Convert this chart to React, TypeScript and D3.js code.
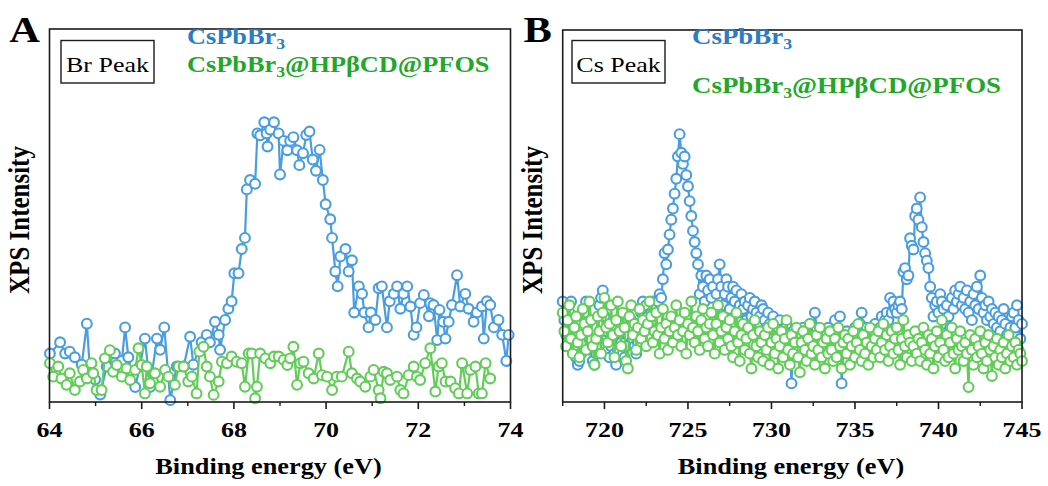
import React from "react";
import * as d3 from "d3";

// ---------- Panel A (Br peak) ----------
const A_TICKS_MAJOR = [64, 66, 68, 70, 72, 74];
const A_TICKS_MINOR = [65, 67, 69, 71, 73];
const A_BLUE_E = [
  64.01, 64.23, 64.34, 64.44, 64.55, 64.7, 64.81, 64.88, 64.99, 65.1,
  65.24, 65.42, 65.57, 65.64, 65.71, 65.86, 65.96, 66.07, 66.18, 66.33,
  66.4, 66.49, 66.62, 66.76, 66.91, 67.05, 67.12, 67.3, 67.41, 67.48,
  67.59, 67.67, 67.7, 67.81, 67.88, 67.95, 68.01, 68.1, 68.17, 68.24,
  68.28, 68.35, 68.46, 68.51, 68.57, 68.66, 68.71, 68.73, 68.79, 68.87,
  68.97, 69.0, 69.08, 69.16, 69.22, 69.29, 69.37, 69.42, 69.5, 69.57,
  69.64, 69.71, 69.78, 69.86, 69.93, 69.99, 70.09, 70.13, 70.2, 70.25,
  70.31, 70.42, 70.49, 70.56, 70.61, 70.71, 70.78, 70.83, 70.92, 70.97,
  71.07, 71.14, 71.21, 71.32, 71.38, 71.47, 71.54, 71.61, 71.68, 71.76,
  71.83, 71.9, 71.96, 72.04, 72.12, 72.23, 72.26, 72.33, 72.41, 72.46,
  72.54, 72.59, 72.66, 72.73, 72.84, 72.91, 73.02, 73.09, 73.2, 73.27,
  73.38, 73.42, 73.49, 73.56, 73.64, 73.74, 73.82, 73.91, 73.96,
];
const A_BLUE_I = [
  13, 16, 13, 13.5, 12, 10, 21, 8, 6, 2,
  9.5, 13, 11, 20, 12, 4, 9.5, 17, 4, 17,
  14, 20, 0.5, 9.5, 9.5, 17.5, 10, 16, 18, 16,
  21.5, 18, 14, 22, 25, 27, 34.5, 34.5, 41, 44,
  57, 59.5, 58.5, 72, 71.5, 75, 72, 68.5, 73, 75,
  72, 61, 70, 67.5, 70, 71, 67.5, 63.5, 66.7, 71.6,
  72.5, 65, 62, 67.6, 59.5, 53, 49, 44, 35, 31,
  39, 41, 35, 38, 24, 31, 29, 24, 20, 24,
  22, 30.5, 31, 20, 27, 29, 31, 25, 29, 31,
  25.6, 18, 20, 26.5, 28.7, 23, 26.5, 26, 16.6, 24.7,
  21.5, 17, 21.5, 26, 34, 25.6, 29, 25, 21.5, 24,
  25.6, 17, 27, 26, 20, 22, 18, 11, 18,
];
const A_GREEN_E = [
  64.01, 64.08, 64.19, 64.26, 64.37, 64.44, 64.55, 64.66, 64.73, 64.81,
  64.91, 64.95, 65.02, 65.13, 65.2, 65.31, 65.38, 65.46, 65.57, 65.67,
  65.75, 65.86, 65.93, 66.0, 66.07, 66.11, 66.18, 66.29, 66.4, 66.51,
  66.58, 66.72, 66.8, 66.91, 67.01, 67.09, 67.19, 67.25, 67.34, 67.41,
  67.48, 67.56, 67.67, 67.74, 67.85, 67.95, 68.06, 68.17, 68.24, 68.32,
  68.39, 68.46, 68.5, 68.57, 68.68, 68.79, 68.87, 68.97, 69.08, 69.16,
  69.22, 69.29, 69.37, 69.44, 69.51, 69.62, 69.73, 69.84, 69.91, 70.02,
  70.13, 70.23, 70.34, 70.49, 70.56, 70.67, 70.74, 70.85, 70.96, 71.03,
  71.14, 71.18, 71.25, 71.32, 71.39, 71.54, 71.61, 71.68, 71.79, 71.9,
  71.97, 72.04, 72.15, 72.26, 72.37, 72.44, 72.51, 72.59, 72.7, 72.8,
  72.88, 72.95, 73.06, 73.13, 73.24, 73.31, 73.38, 73.46, 73.56,
];
const A_GREEN_I = [
  10.4, 6.8, 9.5, 6.3, 4.6, 7.7, 3.2, 5.5, 8.6, 6.3,
  10.4, 7.7, 3.2, 3.2, 11.7, 13.9, 8.1, 9.9, 6.8, 9.0,
  5.9, 8.6, 14.4, 9.9, 2.3, 9.5, 5.0, 7.7, 4.1, 8.6,
  6.8, 4.6, 9.5, 9.5, 5.5, 6.8, 2.3, 13.5, 14.8, 9.5,
  6.8, 1.9, 5.5, 10.8, 10.4, 12.2, 10.8, 10.4, 4.1, 13.0,
  13.0, 1.0, 4.1, 13.0, 11.7, 10.4, 12.2, 12.2, 11.3, 9.9,
  11.7, 14.8, 4.6, 10.4, 10.8, 7.7, 6.3, 13.0, 7.2, 6.8,
  3.2, 6.8, 6.8, 13.5, 7.7, 6.3, 5.5, 4.1, 6.8, 8.6,
  3.2, 1.0, 8.1, 7.7, 5.9, 6.8, 3.2, 2.3, 7.2, 9.5,
  6.8, 5.9, 10.4, 14.4, 2.8, 9.5, 10.4, 5.5, 5.5, 3.7,
  2.3, 10.4, 2.3, 8.6, 9.5, 2.3, 2.3, 10.4, 6.3,
];

// ---------- Panel B (Cs peak), 0.1 eV grid from 717.5 eV ----------
const B_TICKS_MAJOR = [720, 725, 730, 735, 740, 745];
const B_TICKS_MINOR = [717.5, 722.5, 727.5, 732.5, 737.5, 742.5];
const B_START = 717.5;
const B_STEP = 0.1;
const B_BLUE_I = [
  27, 22, 18, 15, 24, 27, 20, 15, 12, 10,
  11, 13, 16, 24, 27, 21, 17, 14, 11, 10,
  13, 17, 26, 28, 30, 23, 19, 14, 12, 15,
  18, 13, 10, 14, 19, 16, 13, 12, 15, 18,
  20, 22, 17, 15, 13, 16, 21, 24, 27, 25,
  26, 23, 20, 24, 27, 26, 25, 27, 29, 28,
  33, 40, 37, 41, 45, 49, 52, 56, 60, 66,
  72, 67, 64, 66, 61, 58, 54, 50, 46, 43,
  40, 37, 29, 34, 31, 27, 34, 30, 33, 28,
  31, 24, 29, 33, 37, 31, 26, 29, 33, 31,
  25, 28, 31, 27, 30, 24, 26, 29, 25, 27,
  22, 26, 28, 23, 25, 27, 24, 21, 23, 26,
  25, 22, 20, 24, 21, 18, 23, 19, 17, 20,
  22, 18, 16, 19, 21, 17, 15, 5, 18, 16,
  14, 14, 18, 16, 20, 17, 15, 19, 21, 16,
  18, 24, 20, 17, 15, 19, 16, 14, 18, 20,
  17, 15, 19, 22, 16, 18, 23, 5, 14, 16,
  19, 17, 15, 18, 16, 20, 17, 15, 21, 24,
  18, 16, 20, 17, 15, 19, 18, 21, 17, 16,
  20, 23, 19, 22, 24, 22, 28, 24, 27, 25,
  24, 26, 27, 25, 35, 36, 33, 34, 44, 42,
  41, 50, 52, 49, 55, 47, 43, 40, 38, 36,
  31, 28, 23, 26, 27, 24, 29, 27, 25, 21,
  26, 23, 20, 28, 25, 30, 27, 29, 31, 26,
  28, 25, 30, 24, 27, 22, 29, 26, 31, 25,
  34, 28, 24, 26, 22, 27, 23, 25, 21, 24,
  20, 23, 19, 22, 25, 21, 18, 17, 20, 23,
  24, 20, 26, 22, 17, 21,
];
const B_GREEN_I = [
  24, 19, 15, 22, 26, 17, 13, 20, 23, 16,
  12, 18, 25, 21, 14, 19, 27, 22, 15, 10,
  17, 23, 19, 13, 24, 28, 20, 16, 21, 26,
  18, 12, 22, 27, 19, 15, 24, 20, 11, 9,
  23, 26, 18, 21, 14, 20, 25, 17, 22, 19,
  15, 21, 27, 23, 16, 19, 24, 18, 13, 20,
  25, 17, 21, 14, 19, 23, 16, 20, 26, 18,
  22, 15, 19, 24, 13, 21, 18, 27, 20, 16,
  23, 19, 14, 22, 25, 17, 20, 15, 21, 24,
  18, 13, 21, 26, 16, 19, 23, 14, 20, 17,
  22, 15, 12, 19, 24, 16, 11, 18, 21, 14,
  17, 20, 13, 9, 18, 22, 15, 12, 19, 16,
  11, 18, 14, 20, 10, 16, 21, 13, 17, 9,
  15, 19, 12, 17, 22, 14, 10, 18, 13, 16,
  20, 12, 8, 16, 19, 14, 11, 17, 21, 13,
  15, 10, 18, 14, 20, 12, 16, 9, 17, 13,
  19, 14, 11, 17, 12, 20, 15, 9, 16, 18,
  13, 17, 10, 15, 19, 12, 16, 21, 14, 11,
  18, 13, 16, 10, 20, 15, 12, 17, 14, 19,
  12, 16, 21, 14, 18, 11, 15, 19, 13, 17,
  20, 14, 10, 17, 22, 15, 12, 18, 16, 11,
  15, 19, 13, 17, 11, 16, 20, 14, 10, 18,
  13, 17, 9, 15, 19, 12, 16, 22, 14, 11,
  18, 12, 16, 20, 13, 9, 17, 14, 19, 15,
  11, 16, 13, 4, 18, 14, 10, 17, 12, 15,
  19, 13, 9, 16, 11, 18, 14, 7, 15, 12,
  17, 10, 14, 12, 16, 9, 13, 18, 11, 15,
  12, 16, 10, 14, 13, 11,
];

const SERIES_NAMES = ["CsPbBr", "@HPβCD@PFOS"];

const BLUE = "#4a9ddf";
const GREEN = "#62cd58";
const BLUE_TXT = "#2b7cc0";
const GREEN_TXT = "#1fa82a";
const FONT = "'Liberation Serif', 'Times New Roman', serif";
const SX = 1.18;

type Pt = { e: number; v: number };

function Series({ pts, x, y, color }: { pts: Pt[]; x: any; y: any; color: string }) {
  const line = d3.line<Pt>().x((d) => x(d.e)).y((d) => y(d.v));
  return (
    <g>
      <path d={line(pts) || ""} fill="none" stroke={color} strokeWidth={2.2} />
      {pts.map((d, i) => (
        <circle key={i} cx={x(d.e)} cy={y(d.v)} r={4.9} fill="#fff" stroke={color} strokeWidth={2.1} />
      ))}
    </g>
  );
}

function Txt({ x, y, size, weight, anchor, fill, rotate, children }: any) {
  const t = `translate(${x},${y}) scale(${SX},1)` + (rotate ? ` rotate(${rotate})` : "");
  return (
    <text transform={t} fontFamily={FONT} fontSize={size} fontWeight={weight || "normal"} textAnchor={anchor || "start"} fill={fill || "#000"}>
      {children}
    </text>
  );
}

function Panel(props: any) {
  const { left, right, top, bottom, domain, major, minor, blue, green, letter, peak, legBlueY, legGreenY, legX, legSize, boxX, titleX } = props;
  const x = d3.scaleLinear().domain(domain).range([left, right]);
  const y = d3.scaleLinear().domain([0, 100]).range([bottom, top]);
  return (
    <g>
      <Series pts={blue} x={x} y={y} color={BLUE} />
      <Series pts={green} x={x} y={y} color={GREEN} />
      <rect x={left} y={top} width={right - left} height={bottom - top} fill="none" stroke="#1a1a1a" strokeWidth={1.6} />
      {major.map((t: number) => (
        <g key={"M" + t}>
          <line x1={x(t)} x2={x(t)} y1={bottom} y2={bottom + 7} stroke="#1a1a1a" strokeWidth={1.6} />
          <Txt x={x(t)} y={436.5} size={22} weight="bold" anchor="middle">{String(t)}</Txt>
        </g>
      ))}
      {minor.map((t: number) => (
        <line key={"m" + t} x1={x(t)} x2={x(t)} y1={bottom} y2={bottom + 4} stroke="#1a1a1a" strokeWidth={1.4} />
      ))}
      <Txt x={titleX} y={474} size={22.3} weight="bold" anchor="middle">Binding energy (eV)</Txt>
      <Txt x={left - 20.5} y={220} size={25} weight="bold" anchor="middle" rotate={-90}>XPS Intensity</Txt>
      <Txt x={left - 25} y={42} size={36} weight="bold" anchor="middle">{letter}</Txt>
      <rect x={boxX} y={40.5} width={93} height={42.5} fill="#fff" stroke="#1a1a1a" strokeWidth={1.4} />
      <Txt x={boxX + 46.5} y={72} size={22} anchor="middle">{peak}</Txt>
      <Txt x={legX} y={legBlueY} size={legSize} weight="bold" fill={BLUE_TXT}>
        <tspan>{SERIES_NAMES[0]}</tspan>
        <tspan dy={5} fontSize={15}>3</tspan>
      </Txt>
      <Txt x={legX} y={legGreenY} size={legSize} weight="bold" fill={GREEN_TXT}>
        <tspan>{SERIES_NAMES[0]}</tspan>
        <tspan dy={5} fontSize={15}>3</tspan>
        <tspan dy={-5}>{SERIES_NAMES[1]}</tspan>
      </Txt>
    </g>
  );
}

export default function App() {
  const aBlue = A_BLUE_E.map((e, i) => ({ e, v: A_BLUE_I[i] }));
  const aGreen = A_GREEN_E.map((e, i) => ({ e, v: A_GREEN_I[i] }));
  const bBlue = B_BLUE_I.map((v, i) => ({ e: B_START + i * B_STEP, v }));
  const bGreen = B_GREEN_I.map((v, i) => ({ e: B_START + i * B_STEP, v }));
  return (
    <svg width={1048} height={486} style={{ position: "absolute", left: 0, top: 0, background: "#fff" }}>
      <rect width={1048} height={486} fill="#fff" />
      <Panel left={49.5} right={510.5} top={29} bottom={402} domain={[64, 74]}
        major={A_TICKS_MAJOR} minor={A_TICKS_MINOR} blue={aBlue} green={aGreen}
        letter="A" peak="Br Peak" legX={187} legBlueY={44} legGreenY={72} legSize={22.3} boxX={61} titleX={268.5} />
      <Panel left={562.7} right={1022} top={30} bottom={402} domain={[717.5, 745]}
        major={B_TICKS_MAJOR} minor={B_TICKS_MINOR} blue={bBlue} green={bGreen}
        letter="B" peak="Cs Peak" legX={692} legBlueY={44} legGreenY={93} legSize={22.8} boxX={572} titleX={791} />
    </svg>
  );
}
